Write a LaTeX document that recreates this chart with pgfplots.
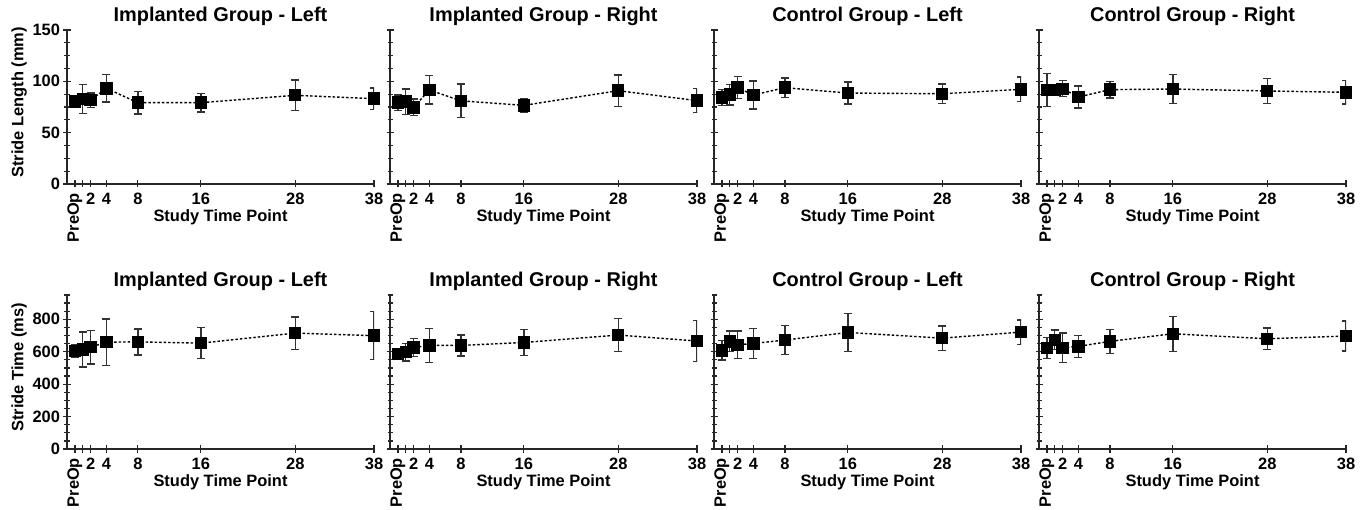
\documentclass[border=0pt]{standalone}
\usepackage{pgfplots}
\pgfplotsset{compat=1.18}
\usepackage{fontspec}
\setmainfont{Liberation Sans}
\usepackage{graphicx}

\pgfplotsset{
  panel/.style={
    scale only axis, width=307bp, height=154bp,
    anchor=south west,
    xmin=-1, xmax=38,
    axis x line=bottom, axis y line=left,
    axis line style={-, line width=1.6bp, black!85},
    tick align=center,
    major tick length=7bp, minor tick length=5bp,
    every tick/.style={line width=1.3bp, black!85},
    xtick={0,1,2,4,8,16,28,38},
    xticklabels={\rotatebox{90}{PreOp},,2,4,8,16,28,38},
    ticklabel style={font=\fontsize{16.5}{16.5}\selectfont\bfseries},
    xticklabel style={yshift=-2bp},
    /pgf/number format/assume math mode=true,
    xlabel={Study Time Point},
    label style={font=\fontsize{16.5}{16.5}\selectfont\bfseries},
    xlabel style={at={(axis description cs:0.5,0)}, anchor=north, inner sep=0pt, yshift=-25.5bp},
    ylabel style={at={(axis description cs:-0.156,0.53)}, anchor=center},
    title style={font=\fontsize{20}{20}\selectfont\bfseries, at={(axis description cs:0.5,1)}, anchor=base, yshift=3bp},
  },
  lenrow/.style={panel, ymin=0, ymax=150, ytick={0,50,100,150}, minor ytick={0,12.5,...,150}},
  timerow/.style={panel, ymin=0, ymax=950, ytick={0,200,...,800}, minor ytick={0,50,...,950}},
  noy/.style={yticklabels={}},
  series/.style={black, line width=1.4bp, dash pattern=on 2.5bp off 2bp,
    mark=square*, mark size=5.5bp, mark options={solid, fill=black},
    error bars/.cd, y dir=both, y explicit,
    error bar style={solid, line width=1.4bp, black!80},
    error mark options={solid, line width=1.4bp, black!80, mark size=4bp, rotate=90}},
}

\begin{document}
\begin{tikzpicture}
\path[use as bounding box] (0bp,0bp) rectangle (1371bp,510bp);

% stride length
\begin{axis}[lenrow, at={(67bp,326bp)}, title={Implanted Group - Left}, ylabel={Stride Length (mm)}]
\addplot[series] coordinates {
(0,80.2) +- (0,4) (1,82.8) +- (0,14) (2,81.8) +- (0,7) (4,93.2) +- (0,13.5)
(8,79.2) +- (0,11) (16,79.2) +- (0,9) (28,86.4) +- (0,14.8) (38,83.1) +- (0,10.4)};
\end{axis}
\begin{axis}[lenrow, noy, at={(390bp,326bp)}, title={Implanted Group - Right}]
\addplot[series] coordinates {
(0,79.2) +- (0,7.6) (1,80.2) +- (0,12.3) (2,74.7) +- (0,8) (4,91.6) +- (0,13.8)
(8,81.0) +- (0,16.4) (16,76.6) +- (0,6.6) (28,90.9) +- (0,15.3) (38,81.2) +- (0,11.7)};
\end{axis}
\begin{axis}[lenrow, noy, at={(714bp,326bp)}, title={Control Group - Left}]
\addplot[series] coordinates {
(0,84.4) +- (0,7.8) (1,87.0) +- (0,10) (2,93.8) +- (0,10.7) (4,86.7) +- (0,13.7)
(8,93.8) +- (0,9.4) (16,88.6) +- (0,10.8) (28,87.9) +- (0,9.6) (38,92.2) +- (0,12)};
\end{axis}
\begin{axis}[lenrow, noy, at={(1039bp,326bp)}, title={Control Group - Right}]
\addplot[series] coordinates {
(0,91.6) +- (0,16.2) (1,91.3) +- (0,4) (2,92.8) +- (0,7.8) (4,84.7) +- (0,10.6)
(8,91.9) +- (0,8) (16,92.5) +- (0,14.3) (28,90.6) +- (0,12) (38,89.3) +- (0,11.4)};
\end{axis}

% stride time
\begin{axis}[timerow, at={(67bp,61bp)}, title={Implanted Group - Left}, ylabel={Stride Time (ms)}]
\addplot[series] coordinates {
(0,603) +- (0,38) (1,614) +- (0,108) (2,628) +- (0,104) (4,659) +- (0,143)
(8,661) +- (0,80) (16,653) +- (0,95) (28,715) +- (0,100) (38,699) +- (0,148)};
\end{axis}
\begin{axis}[timerow, noy, at={(390bp,61bp)}, title={Implanted Group - Right}]
\addplot[series] coordinates {
(0,587) +- (0,31) (1,597) +- (0,54) (2,626) +- (0,56) (4,639) +- (0,106)
(8,639) +- (0,65) (16,657) +- (0,80) (28,703) +- (0,101) (38,666) +- (0,128)};
\end{axis}
\begin{axis}[timerow, noy, at={(714bp,61bp)}, title={Control Group - Left}]
\addplot[series] coordinates {
(0,608) +- (0,60) (1,664) +- (0,64) (2,643) +- (0,86) (4,651) +- (0,94)
(8,672) +- (0,90) (16,719) +- (0,117) (28,684) +- (0,75) (38,721) +- (0,75)};
\end{axis}
\begin{axis}[timerow, noy, at={(1039bp,61bp)}, title={Control Group - Right}]
\addplot[series] coordinates {
(0,622) +- (0,65) (1,674) +- (0,60) (2,624) +- (0,91) (4,633) +- (0,68)
(8,664) +- (0,75) (16,711) +- (0,108) (28,680) +- (0,67) (38,697) +- (0,92)};
\end{axis}
\end{tikzpicture}
\end{document}
